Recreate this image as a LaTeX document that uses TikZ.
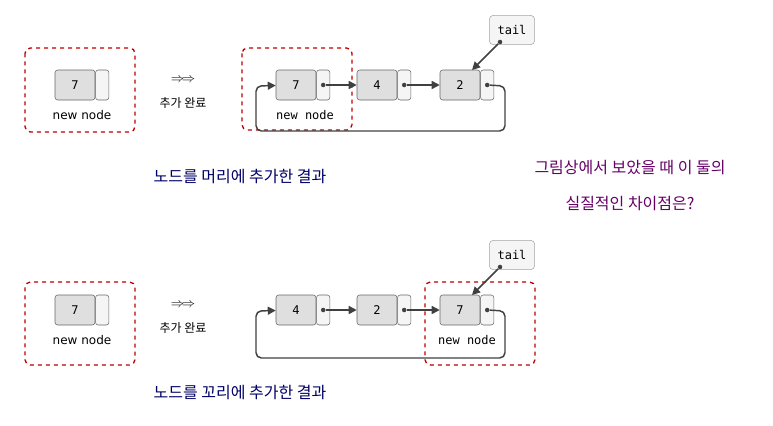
\documentclass[tikz,border=0pt]{standalone}
\usepackage{fontspec}
\setmainfont{DejaVu Sans}
\newfontfamily\kr{Noto Sans CJK KR}
\newfontfamily\mono{DejaVu Sans Mono}
\usetikzlibrary{arrows.meta}
\tikzset{
 val/.style={draw=gray!80!black,fill=gray!25,rounded corners=2pt,minimum width=30pt,minimum height=22.5pt,font=\mono\small,inner sep=0},
 ptr/.style={draw=gray!80!black,fill=gray!8,rounded corners=2pt,minimum width=10pt,minimum height=22.5pt,inner sep=0},
 tailbox/.style={draw=gray!70,fill=gray!8,rounded corners=3pt,minimum width=34pt,minimum height=22pt,inner sep=0,font=\mono\small},
 hl/.style={draw=red!75!black,dashed,line width=1pt,rounded corners=4pt},
 link/.style={draw=black!75,line width=1.1pt,-{Triangle[length=6pt,width=6pt]}},
 dot/.style={circle,fill=black!75,inner sep=1.2pt},
 nodot/.style={inner sep=1.2pt},
 lbl/.style={font=\small},
 captext/.style={font=\kr\large,text=blue!40!black},
 note/.style={font=\kr\large,text=violet!80!black}
}
\newcommand\lnode[5]{%
 \node[val] (#1) at (#2+20,#3) {#4};
 \node[ptr,anchor=west] (#1p) at (#1.east) {};
 \node[#5] (#1d) at (#1p.center) {};}
\begin{document}
\begin{tikzpicture}[x=0.75pt,y=-0.75pt]
\useasboundingbox (0,0) rectangle (773,425);
% top
\draw[hl] (25,48) rectangle (135,132);
\lnode{a}{55}{85}{7}{nodot}
\node[lbl] (an) at (82,115) {new node};
\node (ar1) at (183,80) {$\Rightarrow\!\Rightarrow$};
\node[font=\kr\small] (t1) at (183,103) {추가 완료};
\draw[hl] (242,48) rectangle (352,130);
\lnode{b}{276}{85}{7}{dot}
\lnode{c}{357}{85}{4}{dot}
\lnode{d}{440}{85}{2}{dot}
\node[lbl,font=\mono\small] (bn) at (305,115) {new node};
\node[tailbox] (tl) at (512,30) {tail};
\draw[link] (bd) -- (c);
\draw[link] (cd) -- (d);
\node[dot] (td) at (500,42) {};
\draw[link] (td) -- (472,70);
\draw[link,rounded corners=4pt] (dd) -- (505,86) -- (505,131) -- (256,131) -- (256,86) -- (b);
\node[captext] (c1) at (240,177) {노드를 머리에 추가한 결과};
\node[note] (n1) at (630,168) {그림상에서 보았을 때 이 둘의};
\node[note] (n2) at (630,204) {실질적인 차이점은?};
% bottom
\draw[hl] (25,282) rectangle (135,365);
\lnode{e}{55}{310}{7}{nodot}
\node[lbl] (en) at (82,340) {new node};
\node (ar2) at (183,305) {$\Rightarrow\!\Rightarrow$};
\node[font=\kr\small] (t2) at (183,328) {추가 완료};
\draw[hl] (425,282) rectangle (535,365);
\lnode{f}{276}{310}{4}{dot}
\lnode{g}{357}{310}{2}{dot}
\lnode{h}{440}{310}{7}{dot}
\node[lbl,font=\mono\small] (hn) at (467,340) {new node};
\node[tailbox] (tl2) at (512,255) {tail};
\draw[link] (fd) -- (g);
\draw[link] (gd) -- (h);
\node[dot] (td2) at (500,267) {};
\draw[link] (td2) -- (472,295);
\draw[link,rounded corners=4pt] (hd) -- (505,311) -- (505,358) -- (256,358) -- (256,311) -- (f);
\node[captext] (c2) at (240,393) {노드를 꼬리에 추가한 결과};
\end{tikzpicture}
\end{document}
